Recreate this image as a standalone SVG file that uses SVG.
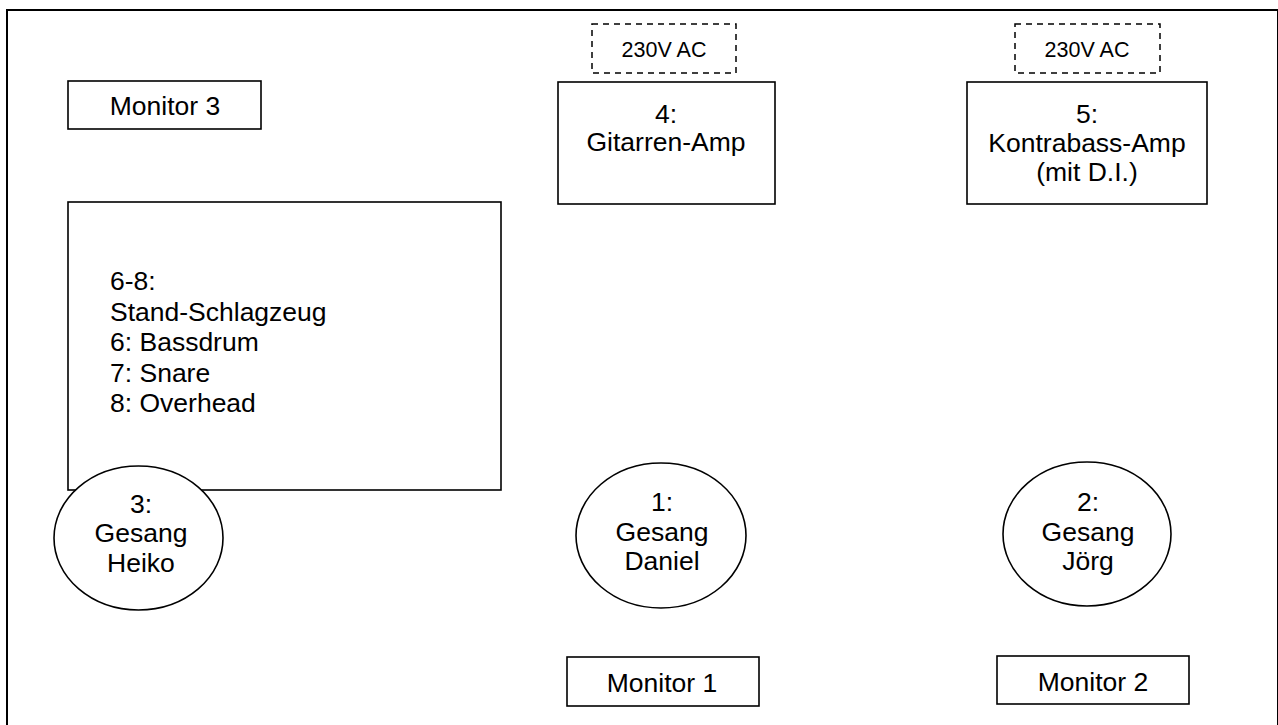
<svg xmlns="http://www.w3.org/2000/svg" width="1278" height="725" viewBox="0 0 1278 725">
<style>
.b{fill:#fff;stroke:#000;stroke-width:1.6}
.d{fill:#fff;stroke:#000;stroke-width:1.5;stroke-dasharray:6 5}
.t{font-family:"Liberation Sans",Arial,sans-serif;font-size:26.5px;fill:#000;text-anchor:middle}
.s{font-family:"Liberation Sans",Arial,sans-serif;font-size:21.5px;fill:#000;text-anchor:middle}
.l{font-family:"Liberation Sans",Arial,sans-serif;font-size:26.5px;fill:#000}
</style>
<rect x="0" y="0" width="1278" height="725" fill="#fff"/>
<rect id="stage" x="7" y="10" width="1271" height="730" fill="none" stroke="#000" stroke-width="2"/>
<g id="connectors"></g>
<g id="monitor3"><rect class="b" x="68" y="81" width="193" height="48"/><text class="t" x="165" y="115">Monitor 3</text></g>
<g id="drums"><rect class="b" x="68" y="202" width="433" height="288"/>
<text class="l" x="110" y="290">6-8:</text>
<text class="l" x="110" y="320.5">Stand-Schlagzeug</text>
<text class="l" x="110" y="351">6: Bassdrum</text>
<text class="l" x="110" y="381.5">7: Snare</text>
<text class="l" x="110" y="412">8: Overhead</text></g>
<g id="power1"><rect class="d" x="592" y="24" width="144" height="49"/><text class="s" x="664" y="56.5">230V AC</text></g>
<g id="amp4"><rect class="b" x="558" y="82" width="217" height="122"/><text class="t" x="666" y="123">4:</text><text class="t" x="666" y="151">Gitarren-Amp</text></g>
<g id="power2"><rect class="d" x="1015" y="24" width="145" height="49"/><text class="s" x="1087" y="56.5">230V AC</text></g>
<g id="amp5"><rect class="b" x="967" y="82" width="240" height="122"/><text class="t" x="1087" y="123">5:</text><text class="t" x="1087" y="152">Kontrabass-Amp</text><text class="t" x="1087" y="180.5">(mit D.I.)</text></g>
<g id="vocal3"><ellipse class="b" cx="138.5" cy="538" rx="84.5" ry="72"/><text class="t" x="141" y="512.5">3:</text><text class="t" x="141" y="542">Gesang</text><text class="t" x="141" y="571.5">Heiko</text></g>
<g id="vocal1"><ellipse class="b" cx="661" cy="535.5" rx="85" ry="72.5"/><text class="t" x="662" y="511">1:</text><text class="t" x="662" y="541">Gesang</text><text class="t" x="662" y="570">Daniel</text></g>
<g id="vocal2"><ellipse class="b" cx="1087" cy="534" rx="84" ry="72"/><text class="t" x="1088" y="511">2:</text><text class="t" x="1088" y="541">Gesang</text><text class="t" x="1088" y="570">Jörg</text></g>
<g id="monitor1"><rect class="b" x="567" y="657" width="192" height="49"/><text class="t" x="662" y="692">Monitor 1</text></g>
<g id="monitor2"><rect class="b" x="997" y="656" width="192" height="48"/><text class="t" x="1093" y="691">Monitor 2</text></g>
</svg>
